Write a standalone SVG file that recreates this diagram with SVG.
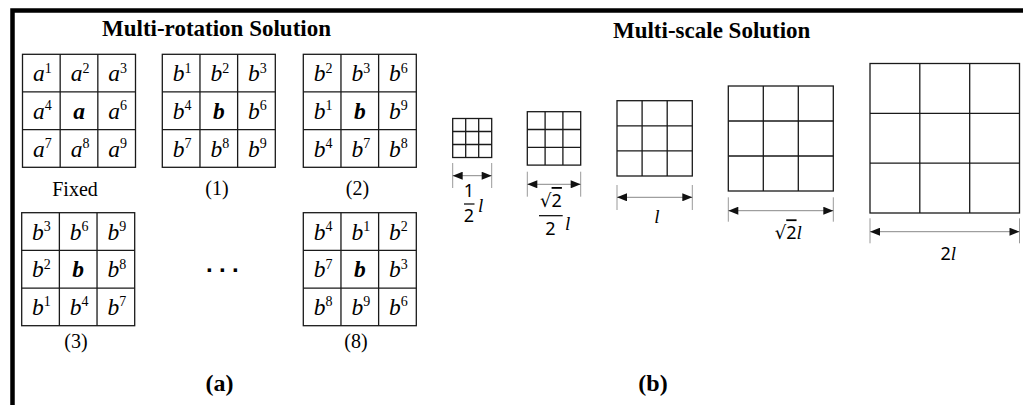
<svg xmlns="http://www.w3.org/2000/svg" width="1023" height="405" viewBox="0 0 1023 405">
<style>
.bg{fill:#fff}
.frame{fill:none;stroke:#000;stroke-width:4.5}
.g{fill:none;stroke:#1a1a1a;stroke-width:1.3}
.m{font-family:'Liberation Serif','Times New Roman','DejaVu Serif',serif;font-style:italic;font-size:23.5px;text-anchor:middle;fill:#000}
.s{font-style:normal;font-size:14px}
.bc{font-weight:bold}
.title{font-family:'Liberation Serif','Times New Roman','DejaVu Serif',serif;font-weight:bold;font-size:23px;text-anchor:middle;fill:#000}
.cap{font-family:'Liberation Serif','Times New Roman','DejaVu Serif',serif;font-size:20px;text-anchor:middle;fill:#000}
.sub{font-family:'Liberation Serif','Times New Roman','DejaVu Serif',serif;font-weight:bold;font-size:24px;text-anchor:middle;fill:#000}
.tick{stroke:#999;stroke-width:1}
.dim{stroke:#888;stroke-width:1;marker-start:url(#ah);marker-end:url(#ah)}
.num{font-family:'Noto Sans','DejaVu Sans',sans-serif;font-size:18px;text-anchor:middle;fill:#000}
.ell{font-family:'Liberation Serif','Times New Roman','DejaVu Serif',serif;font-style:italic;font-size:19px;fill:#000}
.bar{stroke:#000;stroke-width:1.2}
.dots{font-family:'Liberation Sans',Arial,sans-serif;font-weight:bold;font-size:24px;letter-spacing:6.3px;text-anchor:middle;fill:#000}
</style>
<defs>
<marker id="ah" viewBox="0 0 10 8" refX="10" refY="4" markerWidth="11" markerHeight="8" orient="auto-start-reverse" markerUnits="userSpaceOnUse"><path d="M0,0 L10,4 L0,8 z" fill="#111"/></marker>
<g id="grid3"><rect class="g" x="0" y="0" width="113" height="113"/><path class="g" d="M37.67,0V113M75.33,0V113M0,37.67H113M0,75.33H113"/></g>
</defs>
<rect class="bg" x="0" y="0" width="1023" height="405"/>
<path class="frame" d="M12.5,405V10.5H1023"/>

<g id="panel-a">
<text class="title" x="216.5" y="36">Multi-rotation Solution</text>

<g id="grid-fixed" transform="translate(22.5,54.3)">
<use href="#grid3"/>
<text class="m" x="19.8" y="27">a<tspan class="s" dy="-8.5">1</tspan></text>
<text class="m" x="57.5" y="27">a<tspan class="s" dy="-8.5">2</tspan></text>
<text class="m" x="95.2" y="27">a<tspan class="s" dy="-8.5">3</tspan></text>
<text class="m" x="19.8" y="64.7">a<tspan class="s" dy="-8.5">4</tspan></text>
<text class="m bc" x="56.5" y="64.7">a</text>
<text class="m" x="95.2" y="64.7">a<tspan class="s" dy="-8.5">6</tspan></text>
<text class="m" x="19.8" y="102.3">a<tspan class="s" dy="-8.5">7</tspan></text>
<text class="m" x="57.5" y="102.3">a<tspan class="s" dy="-8.5">8</tspan></text>
<text class="m" x="95.2" y="102.3">a<tspan class="s" dy="-8.5">9</tspan></text>
</g>
<text class="cap" x="75" y="196">Fixed</text>

<g id="grid-1" transform="translate(162.3,54.3)">
<use href="#grid3"/>
<text class="m" x="19.8" y="27">b<tspan class="s" dy="-8.5">1</tspan></text>
<text class="m" x="57.5" y="27">b<tspan class="s" dy="-8.5">2</tspan></text>
<text class="m" x="95.2" y="27">b<tspan class="s" dy="-8.5">3</tspan></text>
<text class="m" x="19.8" y="64.7">b<tspan class="s" dy="-8.5">4</tspan></text>
<text class="m bc" x="56.5" y="64.7">b</text>
<text class="m" x="95.2" y="64.7">b<tspan class="s" dy="-8.5">6</tspan></text>
<text class="m" x="19.8" y="102.3">b<tspan class="s" dy="-8.5">7</tspan></text>
<text class="m" x="57.5" y="102.3">b<tspan class="s" dy="-8.5">8</tspan></text>
<text class="m" x="95.2" y="102.3">b<tspan class="s" dy="-8.5">9</tspan></text>
</g>
<text class="cap" x="217" y="195">(1)</text>

<g id="grid-2" transform="translate(303.3,54.3)">
<use href="#grid3"/>
<text class="m" x="19.8" y="27">b<tspan class="s" dy="-8.5">2</tspan></text>
<text class="m" x="57.5" y="27">b<tspan class="s" dy="-8.5">3</tspan></text>
<text class="m" x="95.2" y="27">b<tspan class="s" dy="-8.5">6</tspan></text>
<text class="m" x="19.8" y="64.7">b<tspan class="s" dy="-8.5">1</tspan></text>
<text class="m bc" x="56.5" y="64.7">b</text>
<text class="m" x="95.2" y="64.7">b<tspan class="s" dy="-8.5">9</tspan></text>
<text class="m" x="19.8" y="102.3">b<tspan class="s" dy="-8.5">4</tspan></text>
<text class="m" x="57.5" y="102.3">b<tspan class="s" dy="-8.5">7</tspan></text>
<text class="m" x="95.2" y="102.3">b<tspan class="s" dy="-8.5">8</tspan></text>
</g>
<text class="cap" x="357.5" y="195">(2)</text>

<g id="grid-3" transform="translate(21.7,212.7)">
<use href="#grid3"/>
<text class="m" x="19.8" y="27">b<tspan class="s" dy="-8.5">3</tspan></text>
<text class="m" x="57.5" y="27">b<tspan class="s" dy="-8.5">6</tspan></text>
<text class="m" x="95.2" y="27">b<tspan class="s" dy="-8.5">9</tspan></text>
<text class="m" x="19.8" y="64.7">b<tspan class="s" dy="-8.5">2</tspan></text>
<text class="m bc" x="56.5" y="64.7">b</text>
<text class="m" x="95.2" y="64.7">b<tspan class="s" dy="-8.5">8</tspan></text>
<text class="m" x="19.8" y="102.3">b<tspan class="s" dy="-8.5">1</tspan></text>
<text class="m" x="57.5" y="102.3">b<tspan class="s" dy="-8.5">4</tspan></text>
<text class="m" x="95.2" y="102.3">b<tspan class="s" dy="-8.5">7</tspan></text>
</g>
<text class="cap" x="76" y="348">(3)</text>

<text class="dots" x="225.5" y="272">...</text>

<g id="grid-8" transform="translate(303.3,212.7)">
<use href="#grid3"/>
<text class="m" x="19.8" y="27">b<tspan class="s" dy="-8.5">4</tspan></text>
<text class="m" x="57.5" y="27">b<tspan class="s" dy="-8.5">1</tspan></text>
<text class="m" x="95.2" y="27">b<tspan class="s" dy="-8.5">2</tspan></text>
<text class="m" x="19.8" y="64.7">b<tspan class="s" dy="-8.5">7</tspan></text>
<text class="m bc" x="56.5" y="64.7">b</text>
<text class="m" x="95.2" y="64.7">b<tspan class="s" dy="-8.5">3</tspan></text>
<text class="m" x="19.8" y="102.3">b<tspan class="s" dy="-8.5">8</tspan></text>
<text class="m" x="57.5" y="102.3">b<tspan class="s" dy="-8.5">9</tspan></text>
<text class="m" x="95.2" y="102.3">b<tspan class="s" dy="-8.5">6</tspan></text>
</g>
<text class="cap" x="356" y="348">(8)</text>

<text class="sub" x="219.5" y="391">(a)</text>
</g>

<g id="panel-b">
<text class="title" x="711.7" y="38">Multi-scale Solution</text>

<g id="scale-half">
<rect class="g" x="452.7" y="118.5" width="39" height="39"/>
<path class="g" d="M465.7,118.5V157.5M478.7,118.5V157.5M452.7,131.5H491.7M452.7,144.5H491.7"/>
</g>
<g id="scale-r2half">
<rect class="g" x="527.3" y="111.7" width="53.4" height="53.4"/>
<path class="g" d="M545.1,111.7V165.1M562.9,111.7V165.1M527.3,129.5H580.7M527.3,147.3H580.7"/>
</g>
<g id="scale-one">
<rect class="g" x="617" y="100.7" width="75.3" height="75.3"/>
<path class="g" d="M642.1,100.7V176M667.2,100.7V176M617,125.8H692.3M617,150.9H692.3"/>
</g>
<g id="scale-r2">
<rect class="g" x="728.3" y="86" width="105" height="105"/>
<path class="g" d="M763.3,86V191M798.3,86V191M728.3,121H833.3M728.3,156H833.3"/>
</g>
<g id="scale-two">
<rect class="g" x="870" y="63.5" width="149.5" height="149.5"/>
<path class="g" d="M919.8,63.5V213M969.7,63.5V213M870,113.3H1019.5M870,163.2H1019.5"/>
</g>

<g id="dimensions">
<path class="tick" d="M452.7,163V188M491.7,163V188"/>
<line class="dim" x1="452.7" y1="175.7" x2="491.7" y2="175.7"/>
<path class="tick" d="M527.3,171.7V196.7M580.7,171.7V196.7"/>
<line class="dim" x1="527.3" y1="184.3" x2="580.7" y2="184.3"/>
<path class="tick" d="M617,185V210M692.3,185V210"/>
<line class="dim" x1="617" y1="197.3" x2="692.3" y2="197.3"/>
<path class="tick" d="M728.3,197.3V221.7M833.3,197.3V221.7"/>
<line class="dim" x1="728.3" y1="210.7" x2="833.3" y2="210.7"/>
<path class="tick" d="M870,218.3V243.3M1019.5,218.3V243.3"/>
<line class="dim" x1="870" y1="231.7" x2="1019.5" y2="231.7"/>
</g>

<g id="labels">
<text class="num" x="469" y="197">1</text>
<line class="bar" x1="464" y1="204" x2="474.5" y2="204"/>
<text class="num" x="469" y="222">2</text>
<text class="ell" x="478" y="212">l</text>

<text class="num" x="551" y="207">√<tspan text-decoration="overline">2</tspan></text>
<line class="bar" x1="539" y1="215.7" x2="562.7" y2="215.7"/>
<text class="num" x="550.5" y="235">2</text>
<text class="ell" x="565" y="230">l</text>

<text class="ell" x="657" y="223.3" text-anchor="middle">l</text>

<text class="num" x="788.3" y="239.3">√<tspan text-decoration="overline">2</tspan><tspan class="ell">l</tspan></text>

<text class="num" x="948.3" y="260">2<tspan class="ell">l</tspan></text>
</g>

<text class="sub" x="653" y="391">(b)</text>
</g>
</svg>
